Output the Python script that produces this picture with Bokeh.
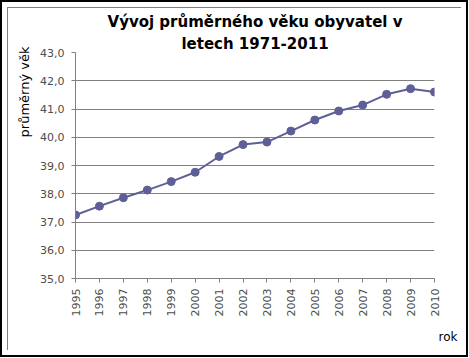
from math import pi
from bokeh.plotting import figure
from bokeh.models import (Range1d, FixedTicker, CustomJSTickFormatter,
                          ColumnDataSource, Title)
from bokeh.embed import file_html
from bokeh.resources import INLINE

# ---- data ----
years = [1995, 1996, 1997, 1998, 1999, 2000, 2001, 2002, 2003, 2004, 2005,
         2006, 2007, 2008, 2009, 2010]
avg_age = [37.25, 37.56, 37.86, 38.13, 38.43, 38.76, 39.32, 39.74, 39.83,
           40.22, 40.61, 40.93, 41.14, 41.52, 41.72, 41.60]
y_ticks = [35, 36, 37, 38, 39, 40, 41, 42, 43]
title_lines = ["Vývoj průměrného věku obyvatel v", "letech 1971-2011"]
y_label = "průměrný věk"
x_label = "rok"

# canvas placed at page (8, 8) by CSS margin + 1px border
OX, OY = 8, 8
CW, CH = 454, 343
FL, FR, FT, FB = 75 - OX, 434 - OX, 52 - OY, 278 - OY   # frame edges in canvas px

p = figure(width=CW, height=CH, output_backend="svg", toolbar_location=None,
           x_range=Range1d(years[0], years[-1]),
           y_range=Range1d(y_ticks[0], y_ticks[-1]),
           min_border_left=FL, min_border_right=CW - FR,
           min_border_top=FT, min_border_bottom=CH - FB)
p.styles = {"margin-left": "7px", "margin-top": "7px",
            "border-left": "1px solid #808080", "border-top": "1px solid #808080",
            "outline": "2px solid black", "outline-offset": "5px"}
p.outline_line_color = None
p.background_fill_color = "white"
p.border_fill_color = "white"

FONT = "DejaVu Sans"
AX = "#808080"
TXT = "#4d4d4d"

p.title.visible = False
# second line first: it sits nearest to the plot
for txt, so in ((title_lines[1], 0), (title_lines[0], 4)):
    p.add_layout(Title(text=txt, align="center", text_font=FONT,
                       text_font_size="15px", text_font_style="bold",
                       text_color="black", standoff=so, offset=0), "above")

# y axis
p.yaxis.ticker = FixedTicker(ticks=y_ticks)
p.yaxis.formatter = CustomJSTickFormatter(code="return tick.toFixed(1).replace('.', ',');")
p.yaxis.axis_line_color = AX
p.yaxis.major_tick_line_color = AX
p.yaxis.major_tick_out = 4
p.yaxis.major_tick_in = 0
p.yaxis.minor_tick_line_color = None
p.yaxis.major_label_text_font = FONT
p.yaxis.major_label_text_font_size = "11px"
p.yaxis.major_label_text_color = TXT
p.yaxis.major_label_standoff = 7

# x axis
p.xaxis.ticker = FixedTicker(ticks=years)
p.xaxis.major_label_orientation = pi / 2
p.xaxis.axis_line_color = AX
p.xaxis.major_tick_line_color = AX
p.xaxis.major_tick_out = 4
p.xaxis.major_tick_in = 0
p.xaxis.minor_tick_line_color = None
p.xaxis.major_label_text_font = FONT
p.xaxis.major_label_text_font_size = "11px"
p.xaxis.major_label_text_color = TXT
p.xaxis.major_label_standoff = 6

p.xgrid.grid_line_color = None
p.ygrid.grid_line_color = AX
p.ygrid.grid_line_width = 1

src = ColumnDataSource(dict(x=years, y=avg_age))
COL = "#5f5f98"
p.line("x", "y", source=src, line_color=COL, line_width=2)
p.scatter("x", "y", source=src, marker="circle", size=8,
          fill_color=COL, line_color=COL)

# axis titles as side titles
p.add_layout(Title(text=y_label, align="right", text_font=FONT,
                   text_font_size="13px", text_font_style="normal",
                   text_color="black", standoff=12, offset=-6), "left")
p.add_layout(Title(text=x_label, align="right", text_font=FONT,
                   text_font_size="12px", text_font_style="normal",
                   text_color="black", standoff=16, offset=-23), "below")

open("out.html", "w").write(file_html(p, INLINE))
